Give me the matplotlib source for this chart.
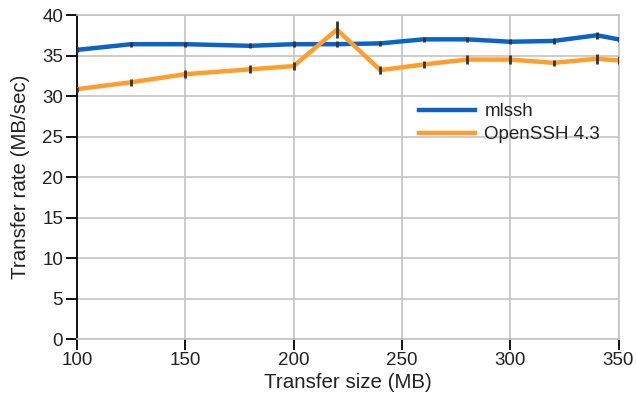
import matplotlib
matplotlib.use("Agg")
import matplotlib.pyplot as plt

plt.rcParams['font.family'] = ['Liberation Sans', 'DejaVu Sans']

sizes = [100, 125, 150, 180, 200, 220, 240, 260, 280, 300, 320, 340, 350]
mlssh = [35.7, 36.4, 36.4, 36.2, 36.4, 36.4, 36.5, 37.0, 37.0, 36.7, 36.8, 37.5, 37.0]
mlssh_err = [0.3, 0.3, 0.3, 0.3, 0.4, 0.4, 0.3, 0.3, 0.3, 0.3, 0.4, 0.4, 0.3]
openssh = [30.85, 31.7, 32.7, 33.3, 33.7, 38.2, 33.2, 33.9, 34.5, 34.5, 34.1, 34.6, 34.4]
openssh_err = [0.3, 0.4, 0.5, 0.5, 0.5, 1.0, 0.5, 0.4, 0.6, 0.6, 0.4, 0.6, 0.5]

xticks = [100, 150, 200, 250, 300, 350]
yticks = [0, 5, 10, 15, 20, 25, 30, 35, 40]

fig = plt.figure(figsize=(6.36, 3.97), dpi=100)
ax = fig.add_axes([0.1211, 0.1453, 0.8514, 0.8169])

blue = '#0a64c8'
orange = '#ff9e2a'
ax.plot(sizes, mlssh, color=blue, lw=3.2, label='mlssh', zorder=3,
        solid_joinstyle='round')
ax.plot(sizes, openssh, color=orange, lw=3.2, label='OpenSSH 4.3', zorder=3,
        solid_joinstyle='round')
ax.errorbar(sizes, mlssh, yerr=mlssh_err, fmt='none', ecolor='#333333',
            elinewidth=2, capsize=0, zorder=4)
ax.errorbar(sizes, openssh, yerr=openssh_err, fmt='none', ecolor='#333333',
            elinewidth=2, capsize=0, zorder=4)

ax.set_xlim(100, 350)
ax.set_ylim(0, 40)
ax.set_xticks(xticks)
ax.set_yticks(yticks)
ax.grid(True, color='#c4c4c4', lw=1.2, zorder=0)
ax.set_axisbelow(True)

for s in ['top', 'right', 'bottom']:
    ax.spines[s].set_color('#c4c4c4')
    ax.spines[s].set_linewidth(1.2)
ax.spines['left'].set_color('black')
ax.spines['left'].set_linewidth(1.3)

ax.tick_params(axis='both', length=8, width=1.3, color='black',
               labelsize=13.5, labelcolor='#222222', direction='out')
ax.tick_params(axis='x', pad=1)
ax.tick_params(axis='y', pad=2)

ax.set_xlabel('Transfer size (MB)', fontsize=14.8, color='#222222', labelpad=3)
ax.set_ylabel('Transfer rate (MB/sec)', fontsize=14.8, color='#222222', labelpad=9)

leg = ax.legend(loc='upper left', bbox_to_anchor=(0.6, 0.78), frameon=False,
                fontsize=13.5, handlelength=3.0, labelspacing=0.3,
                handletextpad=0.5)
for t in leg.get_texts():
    t.set_color('#222222')

fig.savefig('out.png', dpi=100)
